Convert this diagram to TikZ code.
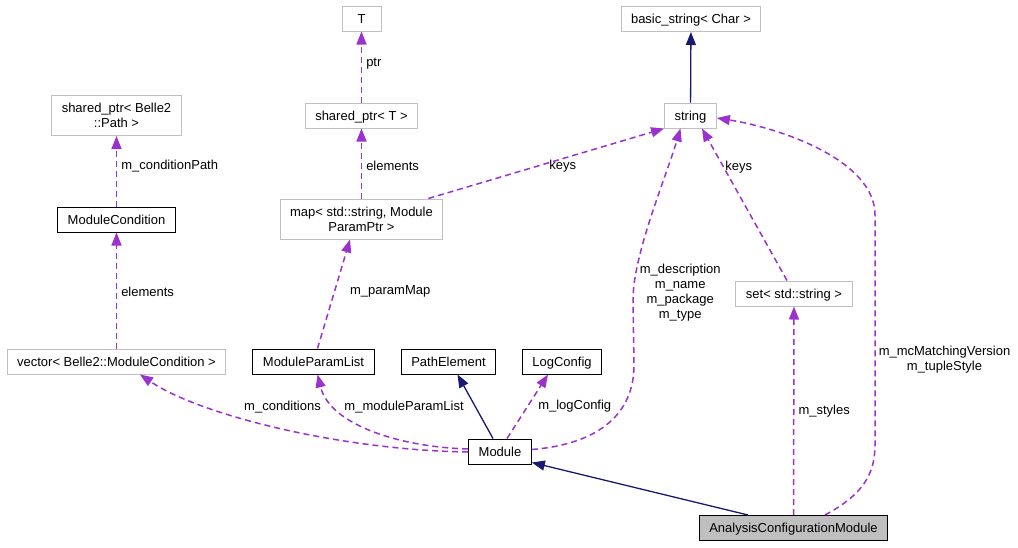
\documentclass[tikz,border=0pt]{standalone}
\usepackage{fontspec}
\setmainfont{Liberation Sans}
\usetikzlibrary{arrows.meta}
\definecolor{depline}{HTML}{9A32CD}
\definecolor{inhline}{HTML}{191970}
\definecolor{extgray}{HTML}{BFBFBF}

\begin{document}
\begin{tikzpicture}[
  x=1pt,y=-1pt,
  font=\fontsize{13}{15}\selectfont,
  box/.style={rectangle,line width=1pt,inner xsep=10pt,inner ysep=3pt,minimum height=25pt,
    text height=11pt,text depth=2pt,align=center},
  cls/.style={box,draw=black},
  ext/.style={box,draw=extgray},
  focus/.style={cls,fill=extgray},
  tall/.style={minimum height=40pt,text height={},text depth={}},
  inherit/.style={-{Triangle[length=13pt,width=10pt]},line width=1.3pt,inhline},
  usage/.style={-{Triangle[length=13pt,width=10pt]},line width=1.5pt,depline,dash pattern=on 6pt off 4pt},
  edge label/.style={text=black,inner sep=1pt,align=center}
]
\useasboundingbox[fill=white] (0,0) rectangle (1018,547);
\node[ext,minimum width=39pt] (T) at (361.5,18.5) {T};
\node[ext] (shptrT) at (361.5,115.5) {shared\_ptr< T >};
\node[ext,tall] (shptrPath) at (116.5,115.5) {shared\_ptr< Belle2\\::Path >};
\node[cls] (modCond) at (116.5,219.5) {ModuleCondition};
\node[ext,tall] (paramMap) at (361.5,219) {map< std::string, Module\\ParamPtr >};
\node[ext] (basicStr) at (691,19) {basic\_string< Char >};
\node[ext] (str) at (690.5,115.5) {string};
\node[ext] (strSet) at (794,293.5) {set< std::string >};
\node[ext] (condVec) at (116.5,361.5) {vector< Belle2::ModuleCondition >};
\node[cls] (paramList) at (313.5,361.5) {ModuleParamList};
\node[cls] (pathElem) at (448.5,361.5) {PathElement};
\node[cls] (logCfg) at (562,361.5) {LogConfig};
\node[cls] (module) at (500,451.5) {Module};
\node[focus] (acm) at (793.5,528) {AnalysisConfigurationModule};

\draw[usage] (shptrT) -- node[edge label,right=3pt,pos=0.55] {ptr} (T);
\draw[usage] (paramMap) -- node[edge label,right=3pt,pos=0.46] {elements} (shptrT);
\draw[usage] (modCond) -- node[edge label,right=3pt,pos=0.57] {m\_conditionPath} (shptrPath);
\draw[usage] (condVec) -- node[edge label,right=3pt,pos=0.49] {elements} (modCond);
\draw[inherit] (str) -- (basicStr);
\draw[usage] ([xshift=-15pt]paramMap.north east) -- node[edge label,below,pos=0.57] {keys} (str.south west);
\draw[usage] ([yshift=2pt]module.east) .. controls (590,445) and (634,420) .. (634,365) -- (633,300)
  node[edge label,anchor=west,xshift=5pt,yshift=7pt] {m\_description\\m\_name\\m\_package\\m\_type}
  .. controls (633,255) and (665,180) .. ([xshift=-10pt]str.south);
\draw[usage] ([xshift=-7pt]strSet.north) -- node[edge label,right,pos=0.745] {keys} ([xshift=11.5pt]str.south);
\draw[usage] ([xshift=31.5pt]acm.north) .. controls (862,495) and (875,475) .. (875,445)
  -- node[edge label,right=2pt,pos=0.37] {m\_mcMatchingVersion\\m\_tupleStyle} (875,215)
  .. controls (875,160) and (780,128) .. ([yshift=-2.5pt]str.east);
\draw[usage] (acm) -- node[edge label,right=3pt] {m\_styles} (strSet);
\draw[inherit] ([xshift=-45.5pt]acm.north) -- ([yshift=2pt]module.south east);
\draw[inherit] ([xshift=-7pt]module.north) -- ([xshift=9pt]pathElem.south);
\draw[usage] ([xshift=7pt]module.north) -- node[edge label,right=9pt,pos=0.5] {m\_logConfig} ([xshift=-14pt]logCfg.south);
\draw[usage] ([yshift=2.5pt]module.west) .. controls (400,447) and (330,425) ..
  node[edge label,right=6pt,pos=0.75] {m\_moduleParamList} ([xshift=4pt]paramList.south);
\draw[usage] ([yshift=-0.5pt]module.west) .. controls (340,450) and (200,415) ..
  node[edge label,pos=0.5,above=13pt,xshift=4pt] {m\_conditions} ([xshift=23.5pt]condVec.south);
\draw[usage] ([xshift=4pt]paramList.north) -- node[edge label,right=14pt,pos=0.52] {m\_paramMap} ([xshift=-11.5pt]paramMap.south);
\end{tikzpicture}
\end{document}
